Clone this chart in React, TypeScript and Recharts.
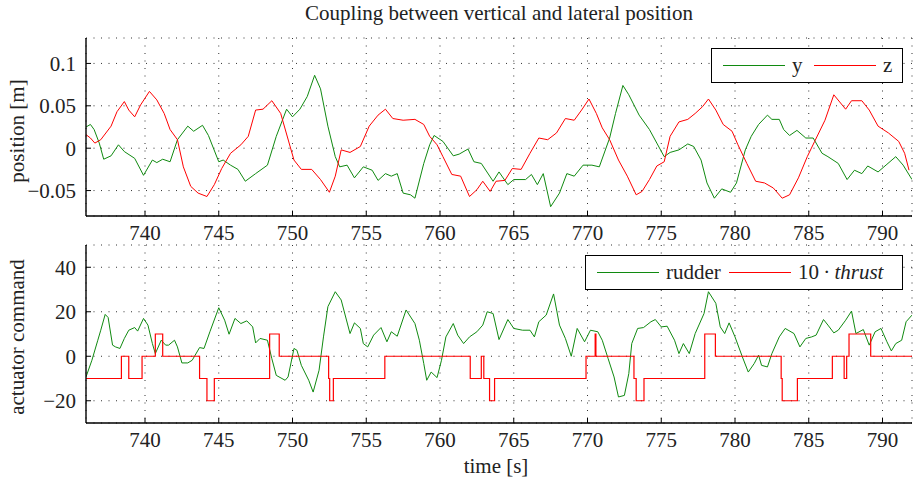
import React from "react";
import { LineChart, Line, XAxis, YAxis, CartesianGrid } from "recharts";

const FONT = '"Liberation Serif", "Times New Roman", serif';
const GREEN = "#108a10";
const RED = "#ff0000";

const timeTicks = [740, 745, 750, 755, 760, 765, 770, 775, 780, 785, 790];
const posTicks = [-0.05, 0, 0.05, 0.1];
const cmdTicks = [-20, 0, 20, 40];

// lateral position y [m]
const yTime = [
  736.0, 736.3, 736.55, 736.9, 737.2, 737.7, 738.2, 738.6, 739.3, 739.9, 740.5, 740.8, 741.2, 741.7,
  742.2, 742.9, 743.3, 743.9, 744.3, 745.0, 745.3, 745.8, 746.3, 746.8, 747.5, 748.3, 748.9, 749.6,
  750.0, 750.5, 751.0, 751.5, 751.9, 752.4, 752.9, 753.2, 753.7, 754.2, 754.8, 755.4, 755.8, 756.3,
  756.7, 757.1, 757.5, 758.0, 758.3, 758.9, 759.3, 759.6, 760.2, 760.9, 761.3, 761.9, 762.3, 762.8,
  763.6, 764.0, 764.6, 765.0, 765.8, 766.2, 766.6, 767.0, 767.5, 768.1, 768.6, 769.1, 769.7, 770.3,
  770.8, 771.5, 771.9, 772.4, 772.8, 773.5, 774.2, 774.7, 775.2, 775.6, 776.2, 776.8, 777.2, 777.7,
  778.1, 778.6, 779.1, 779.7, 780.1, 780.7, 781.1, 781.6, 782.2, 782.5, 783.0, 783.3, 783.7, 784.2,
  784.8, 785.3, 785.9, 786.3, 787.0, 787.6, 788.1, 788.6, 789.0, 789.7, 790.3, 790.9, 791.4, 792.0,
];
const yPos = [
  0.025, 0.028, 0.022, 0.006, -0.013, -0.009, 0.004, -0.004, -0.012, -0.032, -0.014, -0.017, -0.013, -0.016,
  0.01, 0.026, 0.02, 0.027, 0.015, -0.016, -0.014, -0.02, -0.025, -0.039, -0.03, -0.02, 0.014, 0.046,
  0.037, 0.046, 0.061, 0.086, 0.07, 0.026, -0.01, -0.022, -0.02, -0.035, -0.022, -0.026, -0.038, -0.03,
  -0.033, -0.03, -0.053, -0.055, -0.059, -0.018, 0.004, 0.015, 0.008, -0.009, -0.007, -0.001, -0.016, -0.018,
  -0.039, -0.028, -0.043, -0.037, -0.037, -0.031, -0.043, -0.03, -0.069, -0.053, -0.03, -0.033, -0.02, -0.02,
  -0.022, 0.012, 0.041, 0.074, 0.063, 0.039, 0.022, 0.006, -0.01, -0.005, -0.002, 0.005, 0.002, -0.014,
  -0.041, -0.059, -0.048, -0.052, -0.041, -0.002, 0.014, 0.028, 0.039, 0.034, 0.034, 0.022, 0.015, 0.021,
  0.012, 0.012, -0.006, -0.01, -0.018, -0.037, -0.026, -0.03, -0.021, -0.028, -0.019, -0.01, -0.02, -0.037,
];

// vertical position z [m]
const zTime = [
  736.0, 736.3, 736.6, 737.0, 737.7, 738.1, 738.6, 738.9, 739.3, 739.7, 740.3, 740.8, 741.3, 741.7,
  742.2, 742.6, 743.1, 743.6, 744.2, 744.7, 745.2, 745.8, 746.5, 747.0, 747.5, 748.0, 748.6, 749.2,
  750.1, 750.6, 751.3, 751.9, 752.5, 752.9, 753.3, 753.9, 754.6, 755.2, 755.8, 756.3, 756.8, 757.5,
  758.3, 758.9, 759.3, 759.8, 760.2, 760.8, 761.4, 762.0, 762.5, 762.9, 763.4, 763.8, 764.4, 764.9,
  765.5, 766.1, 766.7, 767.3, 767.9, 768.5, 769.1, 769.6, 770.1, 770.6, 771.0, 771.5, 772.1, 772.7,
  773.3, 773.7, 774.2, 774.7, 775.2, 775.6, 776.2, 776.8, 777.3, 777.8, 778.2, 778.7, 779.2, 779.8,
  780.2, 780.8, 781.4, 782.0, 782.6, 783.2, 783.7, 784.3, 784.9, 785.4, 786.1, 786.7, 787.5, 787.9,
  788.6, 789.1, 789.7, 790.4, 791.1, 791.5, 791.8,
];
const zPos = [
  0.016, 0.012, 0.006, 0.01, 0.026, 0.043, 0.055, 0.045, 0.037, 0.051, 0.067, 0.057, 0.041, 0.022,
  0.01, -0.022, -0.045, -0.053, -0.057, -0.043, -0.024, -0.006, 0.004, 0.014, 0.045, 0.046, 0.056, 0.041,
  -0.014, -0.025, -0.025, -0.037, -0.052, -0.033, -0.002, -0.005, 0.002, 0.026, 0.039, 0.046, 0.035, 0.033,
  0.034, 0.028, 0.014, 0.004, -0.01, -0.031, -0.033, -0.057, -0.049, -0.039, -0.051, -0.039, -0.038, -0.024,
  -0.025, -0.006, 0.012, 0.01, 0.018, 0.035, 0.033, 0.045, 0.058, 0.041, 0.024, 0.01, -0.014, -0.033,
  -0.055, -0.051, -0.037, -0.021, -0.016, 0.014, 0.031, 0.034, 0.041, 0.049, 0.058, 0.045, 0.028, 0.02,
  0.004, -0.018, -0.039, -0.041, -0.047, -0.059, -0.055, -0.035, -0.01, 0.008, 0.033, 0.063, 0.046, 0.056,
  0.056, 0.045, 0.026, 0.018, 0.008, -0.006, -0.026,
];

// rudder command
const rudderTime = [
  736.0, 736.4, 736.8, 737.0, 737.3, 737.5, 737.8, 738.0, 738.3, 738.6, 738.9, 739.3, 739.5, 739.9,
  740.2, 740.5, 740.7, 741.1, 741.4, 741.6, 742.0, 742.2, 742.5, 742.9, 743.2, 743.7, 744.0, 744.4,
  745.0, 745.4, 745.7, 746.1, 746.5, 746.9, 747.3, 747.5, 747.8, 748.3, 748.6, 748.9, 749.5, 749.7,
  750.1, 750.3, 750.6, 751.1, 751.4, 751.8, 752.1, 752.4, 752.9, 753.3, 753.9, 754.2, 754.6, 754.8,
  755.1, 755.5, 756.0, 756.4, 756.7, 757.1, 757.7, 758.3, 758.6, 758.9, 759.1, 759.4, 759.8, 760.1,
  760.4, 760.9, 761.2, 761.6, 762.0, 762.5, 762.9, 763.2, 763.6, 764.0, 764.6, 765.0, 765.6, 766.1,
  766.4, 766.7, 767.2, 767.7, 768.1, 768.5, 768.9, 769.3, 769.8, 770.2, 770.7, 771.0, 771.4, 771.8,
  772.1, 772.5, 772.8, 773.0, 773.4, 773.8, 774.3, 774.6, 775.0, 775.4, 775.9, 776.2, 776.5, 776.9,
  777.3, 777.9, 778.2, 778.7, 779.0, 779.3, 779.6, 780.0, 780.5, 780.9, 781.3, 781.6, 781.8, 782.2,
  782.5, 783.0, 783.4, 784.0, 784.4, 784.8, 785.2, 785.5, 786.0, 786.3, 786.7, 787.0, 787.5, 787.9,
  788.2, 788.7, 789.1, 789.5, 789.9, 790.3, 790.6, 790.9, 791.3, 791.6, 792.0,
];
const rudderCmd = [
  -9.3, -1.8, 7.2, 11.7, 18.8, 17.4, 5.0, 4.2, 3.5, 8.0, 11.7, 12.9, 11.3, 17.0,
  14.0, 5.7, 1.2, 7.2, 5.0, 5.0, 7.2, 4.2, -3.0, -3.0, -1.8, 3.9, 3.5, 11.0,
  21.8, 16.2, 9.9, 17.0, 14.7, 15.9, 13.2, 6.0, 8.0, 7.2, -1.1, -8.6, -10.8, -9.3,
  3.5, 2.7, -4.1, -10.8, -16.1, -6.3, 8.7, 22.3, 29.0, 25.3, 10.2, 15.0, 12.5, 5.7,
  4.2, 9.5, 12.9, 6.5, 11.0, 9.0, 20.8, 14.7, 7.2, -3.3, -10.8, -7.1, -9.6, -1.8,
  8.7, 14.7, 9.5, 5.7, 8.7, 11.0, 14.0, 20.0, 19.2, 7.5, 16.5, 12.5, 11.7, 11.7,
  8.7, 15.5, 18.5, 28.0, 14.0, 8.0, 0, 12.5, 6.5, 11.7, 11.0, 7.2, -1.1, -9.3,
  -18.3, -17.6, -7.8, 5.7, 12.5, 12.9, 15.5, 16.5, 13.2, 13.5, 7.2, 1.2, 5.7, 1.2,
  10.2, 19.2, 29.0, 23.8, 13.2, 10.2, 15.0, 8.7, -0.3, -7.1, -3.3, 0.5, -4.1, -4.8,
  1.2, 8.7, 12.5, 10.2, 4.2, 8.0, 8.7, 9.5, 16.5, 14.0, 10.5, 11.7, 16.2, 20.3,
  10.2, 12.0, 5.0, 11.0, 12.5, 6.5, 2.4, 5.7, 7.2, 15.5, 18.5,
];

// 10 * thrust, piecewise constant (value holds from each switch time)
const thrustTime = [
  736.0, 738.4, 738.9, 739.8, 740.7, 741.2, 743.7, 744.2, 744.7, 748.45, 749.1, 752.45, 752.52, 752.77,
  756.26, 762.05, 762.8, 762.97, 763.36, 763.7, 769.9, 770.52, 770.57, 773.15, 773.3, 773.83, 777.95,
  778.67, 783.13, 783.2, 784.23, 786.6, 787.4, 787.57, 787.73, 789.2, 792.0,
];
const thrustCmd = [
  -10, 0, -10, 0, 10, 0, -10, -20, -10, 10, 0, -10, -20, -10,
  0, -10, 0, -10, -20, -10, 0, 10, 0, -10, -20, -10, 10,
  0, -10, -20, -10, 0, -10, 0, 10, 0, 0,
];

const pairs = (t: number[], v: number[]) => t.map((x, i) => ({ t: x, v: v[i] }));

const yData = pairs(yTime, yPos);
const zData = pairs(zTime, zPos);
const rudderData = pairs(rudderTime, rudderCmd);
const thrustData = pairs(thrustTime, thrustCmd);

const tickStyle = { fontFamily: "Liberation Serif", fontSize: 21, fill: "#222" };
const fmt = (v: number) => (v < 0 ? "\u2212" + Math.abs(v) : String(v));

const Panel = ({
  height, top, bottom, domain, ticks, children,
}: {
  height: number; top: number; bottom: number; domain: [number, number]; ticks: number[]; children: React.ReactNode;
}) => (
  <LineChart width={916} height={height} margin={{ top, right: 4, left: 26, bottom }} style={{ fontFamily: FONT }}>
    <CartesianGrid stroke="#333" strokeDasharray="1 6.5" />
    <XAxis
      dataKey="t" type="number" domain={[736, 792]} ticks={timeTicks} allowDataOverflow
      height={30} tickSize={-5} tickMargin={14} tick={tickStyle}
      axisLine={{ stroke: "#000", strokeWidth: 1.4 }} tickLine={{ stroke: "#000" }}
    />
    <XAxis
      xAxisId="top" orientation="top" dataKey="t" type="number" domain={[736, 792]} ticks={timeTicks}
      allowDataOverflow height={0} tickSize={-5} tick={false}
      axisLine={{ stroke: "#000", strokeWidth: 1.4 }} tickLine={{ stroke: "#000" }}
    />
    <YAxis
      type="number" domain={domain} ticks={ticks} allowDataOverflow width={60}
      tickSize={-5} tickMargin={15} tick={tickStyle} tickFormatter={fmt}
      axisLine={{ stroke: "#000", strokeWidth: 1.4 }} tickLine={{ stroke: "#000" }}
    />
    <YAxis
      yAxisId="r" orientation="right" type="number" domain={domain} ticks={ticks} allowDataOverflow
      width={0} tickSize={-5} tick={false}
      axisLine={{ stroke: "#000", strokeWidth: 1.4 }} tickLine={{ stroke: "#000" }}
    />
    {children}
  </LineChart>
);

type LegendItem = { color: string; label: React.ReactNode; labelWidth: number };

const Legend = ({ left, top, width, items }: { left: number; top: number; width: number; items: LegendItem[] }) => (
  <div
    style={{
      position: "absolute", left, top, width, height: 35, border: "1.4px solid #000", background: "#fff",
      display: "flex", alignItems: "center", paddingLeft: 11, boxSizing: "border-box",
      fontFamily: FONT, fontSize: 21, color: "#222",
    }}
  >
    {items.map((it, i) => (
      <div key={i} style={{ display: "flex", alignItems: "center" }}>
        <div style={{ width: 62, height: 0, borderTop: `1.2px solid ${it.color}`, marginRight: 7 }} />
        <div style={{ width: it.labelWidth, whiteSpace: "nowrap" }}>{it.label}</div>
      </div>
    ))}
  </div>
);

const labelStyle: React.CSSProperties = {
  position: "absolute", fontSize: 21, color: "#222", whiteSpace: "nowrap", lineHeight: "24px",
};

export default function App() {
  return (
    <div style={{ position: "absolute", left: 0, top: 0, width: 916, height: 479, background: "#fff", fontFamily: FONT }}>
      <div style={{ position: "absolute", left: 0, top: 0 }}>
        <Panel height={250} top={38} bottom={4} domain={[-0.08, 0.13]} ticks={posTicks}>
          <Line data={yData} dataKey="v" stroke={GREEN} strokeWidth={1} dot={false} isAnimationActive={false} />
          <Line data={zData} dataKey="v" stroke={RED} strokeWidth={1} dot={false} isAnimationActive={false} />
        </Panel>
      </div>
      <div style={{ position: "absolute", left: 0, top: 0 }}>
        <Panel height={479} top={245} bottom={26} domain={[-30, 50]} ticks={cmdTicks}>
          <Line data={rudderData} dataKey="v" stroke={GREEN} strokeWidth={1} dot={false} isAnimationActive={false} />
          <Line data={thrustData} dataKey="v" type="stepAfter" stroke={RED} strokeWidth={1.2} dot={false} isAnimationActive={false} />
        </Panel>
      </div>

      <div style={{ ...labelStyle, left: 499, top: 13, transform: "translate(-50%, -50%)" }}>
        Coupling between vertical and lateral position
      </div>
      <div style={{ ...labelStyle, left: 17, top: 131, transform: "translate(-50%, -50%) rotate(-90deg)" }}>
        position [m]
      </div>
      <div style={{ ...labelStyle, left: 17, top: 337, transform: "translate(-50%, -50%) rotate(-90deg)" }}>
        actuator command
      </div>
      <div style={{ ...labelStyle, left: 496, top: 466, transform: "translate(-50%, -50%)" }}>
        time [s]
      </div>

      <Legend
        left={711} top={48} width={192}
        items={[
          { color: GREEN, label: "y", labelWidth: 22 },
          { color: RED, label: "z", labelWidth: 20 },
        ]}
      />
      <Legend
        left={585} top={255} width={318}
        items={[
          { color: GREEN, label: "rudder", labelWidth: 63 },
          { color: RED, label: <span>10{"\u2009\u00b7\u2009"}<i>thrust</i></span>, labelWidth: 90 },
        ]}
      />
    </div>
  );
}
